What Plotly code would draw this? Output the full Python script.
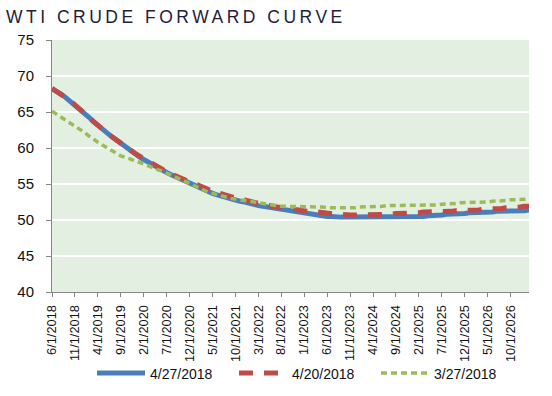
import pandas as pd
import plotly.graph_objects as go

# ---- data ----
months = pd.date_range("2018-06-01", periods=105, freq="MS")
categories = [f"{d.month}/1/{d.year}" for d in months]
tick_labels = categories[::5]

series_names = ["4/27/2018", "4/20/2018", "3/27/2018"]

curve_0427 = [
    68.2, 67.9, 67.5, 67.0, 66.5, 66.0, 65.5, 64.9, 64.3, 63.7,
    63.1, 62.6, 62.1, 61.6, 61.1, 60.6, 60.1, 59.6, 59.2, 58.8,
    58.4, 58.0, 57.6, 57.3, 56.9, 56.6, 56.3, 56.0, 55.7, 55.4,
    55.1, 54.8, 54.5, 54.2, 54.0, 53.7, 53.5, 53.3, 53.1, 52.9,
    52.8, 52.6, 52.5, 52.3, 52.2, 52.0, 51.9, 51.8, 51.6, 51.5,
    51.4, 51.3, 51.2, 51.1, 51.0, 50.9, 50.8, 50.7, 50.6, 50.6,
    50.5, 50.5, 50.4, 50.4, 50.4, 50.4, 50.4, 50.4, 50.4, 50.4,
    50.4, 50.4, 50.4, 50.4, 50.4, 50.4, 50.4, 50.4, 50.4, 50.4,
    50.4, 50.5, 50.6, 50.6, 50.7, 50.7, 50.8, 50.8, 50.9, 50.9,
    50.9, 51.0, 51.0, 51.0, 51.1, 51.1, 51.1, 51.2, 51.2, 51.2,
    51.2, 51.3, 51.3, 51.3, 51.4,
]

curve_0420 = [
    68.3, 67.9, 67.5, 67.0, 66.5, 66.0, 65.5, 64.9, 64.3, 63.7,
    63.1, 62.6, 62.1, 61.6, 61.1, 60.6, 60.2, 59.7, 59.3, 58.9,
    58.5, 58.1, 57.7, 57.4, 57.0, 56.7, 56.4, 56.1, 55.8, 55.6,
    55.3, 55.1, 54.8, 54.5, 54.3, 54.0, 53.8, 53.6, 53.4, 53.2,
    53.1, 52.9, 52.8, 52.6, 52.5, 52.3, 52.2, 52.0, 51.9, 51.8,
    51.7, 51.6, 51.5, 51.4, 51.3, 51.3, 51.2, 51.1, 51.1, 51.0,
    50.9, 50.9, 50.8, 50.8, 50.7, 50.7, 50.7, 50.7, 50.7, 50.7,
    50.7, 50.7, 50.7, 50.8, 50.8, 50.9, 50.9, 51.0, 51.0, 51.0,
    51.0, 51.1, 51.1, 51.1, 51.1, 51.2, 51.2, 51.2, 51.3, 51.3,
    51.3, 51.4, 51.4, 51.4, 51.5, 51.5, 51.5, 51.6, 51.6, 51.7,
    51.7, 51.8, 51.8, 51.9, 51.9,
]

curve_0327 = [
    65.1, 64.7, 64.3, 63.9, 63.5, 63.1, 62.7, 62.2, 61.7, 61.2,
    60.8, 60.4, 60.0, 59.6, 59.2, 58.9, 58.7, 58.5, 58.3, 58.1,
    57.8, 57.5, 57.2, 57.0, 56.8, 56.5, 56.2, 56.0, 55.6, 55.3,
    55.0, 54.8, 54.5, 54.2, 53.9, 53.7, 53.5, 53.3, 53.1, 53.0,
    52.9, 52.8, 52.6, 52.5, 52.4, 52.3, 52.2, 52.1, 52.1, 52.0,
    51.9, 51.9, 51.9, 51.8, 51.8, 51.8, 51.8, 51.8, 51.8, 51.8,
    51.7, 51.7, 51.7, 51.6, 51.6, 51.7, 51.7, 51.8, 51.8, 51.8,
    51.9, 51.9, 51.9, 52.0, 52.0, 52.0, 52.0, 52.0, 52.0, 52.0,
    52.1, 52.1, 52.1, 52.1, 52.1, 52.2, 52.2, 52.3, 52.3, 52.4,
    52.4, 52.4, 52.4, 52.5, 52.5, 52.5, 52.6, 52.6, 52.7, 52.7,
    52.8, 52.8, 52.8, 52.9, 52.9,
]

y_ticks = [40, 45, 50, 55, 60, 65, 70, 75]

# ---- figure ----
FONT = "Liberation Sans, Arial, sans-serif"

fig = go.Figure()
fig.add_trace(go.Scatter(
    x=categories, y=curve_0427, name=series_names[0], mode="lines",
    line=dict(color="#4A7EBB", width=5),
))
fig.add_trace(go.Scatter(
    x=categories, y=curve_0420, name=series_names[1], mode="lines",
    line=dict(color="#BE4B48", width=5, dash="14px,11px"),
))
fig.add_trace(go.Scatter(
    x=categories, y=curve_0327, name=series_names[2], mode="lines",
    line=dict(color="#9BBB59", width=3.5, dash="6px,4px"),
))

fig.update_layout(
    width=552, height=396,
    margin=dict(l=52, r=23, t=40, b=104, autoexpand=False),
    paper_bgcolor="white",
    plot_bgcolor="#E3F0E1",
    font=dict(family=FONT, color="#111111"),
    title=dict(
        text="WTI CRUDE FORWARD CURVE",
        font=dict(family=FONT, size=17.5, color="#1E1D3C"),
        x=6 / 552, xanchor="left", xref="container",
        y=1 - 17 / 396, yanchor="middle", yref="container",
    ),
    showlegend=True,
    legend=dict(
        orientation="h",
        xref="container", yref="container",
        x=92 / 552, xanchor="left",
        y=1 - 373.5 / 396, yanchor="middle",
        font=dict(family=FONT, size=14, color="#111111"),
        bgcolor="rgba(0,0,0,0)",
        entrywidth=79, entrywidthmode="pixels",
        itemwidth=48,
        tracegroupgap=0,
    ),
    hovermode=False,
)

fig.update_xaxes(
    type="category",
    range=[0, 104],
    tickmode="array",
    tickvals=tick_labels,
    ticktext=tick_labels,
    tickangle=-90,
    tickfont=dict(family=FONT, size=12.8, color="#111111"),
    ticks="outside", ticklen=4, tickcolor="#868686", tickwidth=1,
    ticklabelstandoff=3,
    showline=True, linecolor="#868686", linewidth=1,
    showgrid=False, zeroline=False, automargin=False,
)
fig.update_yaxes(
    range=[40, 75],
    tickmode="array",
    tickvals=y_ticks,
    tickfont=dict(family=FONT, size=15, color="#111111"),
    ticks="outside", ticklen=5, tickcolor="#868686", tickwidth=1,
    ticklabelstandoff=9,
    showline=True, linecolor="#868686", linewidth=1,
    showgrid=True, gridcolor="white", gridwidth=1.3,
    zeroline=False, automargin=False,
)

post = """
document.body.style.margin = '0';
document.body.style.padding = '0';
var t = document.querySelector('.gtitle');
if (t) { t.style.letterSpacing = '3.5px'; }
"""

fig.write_html("out.html", post_script=post,
               config={"displayModeBar": False, "staticPlot": True})
